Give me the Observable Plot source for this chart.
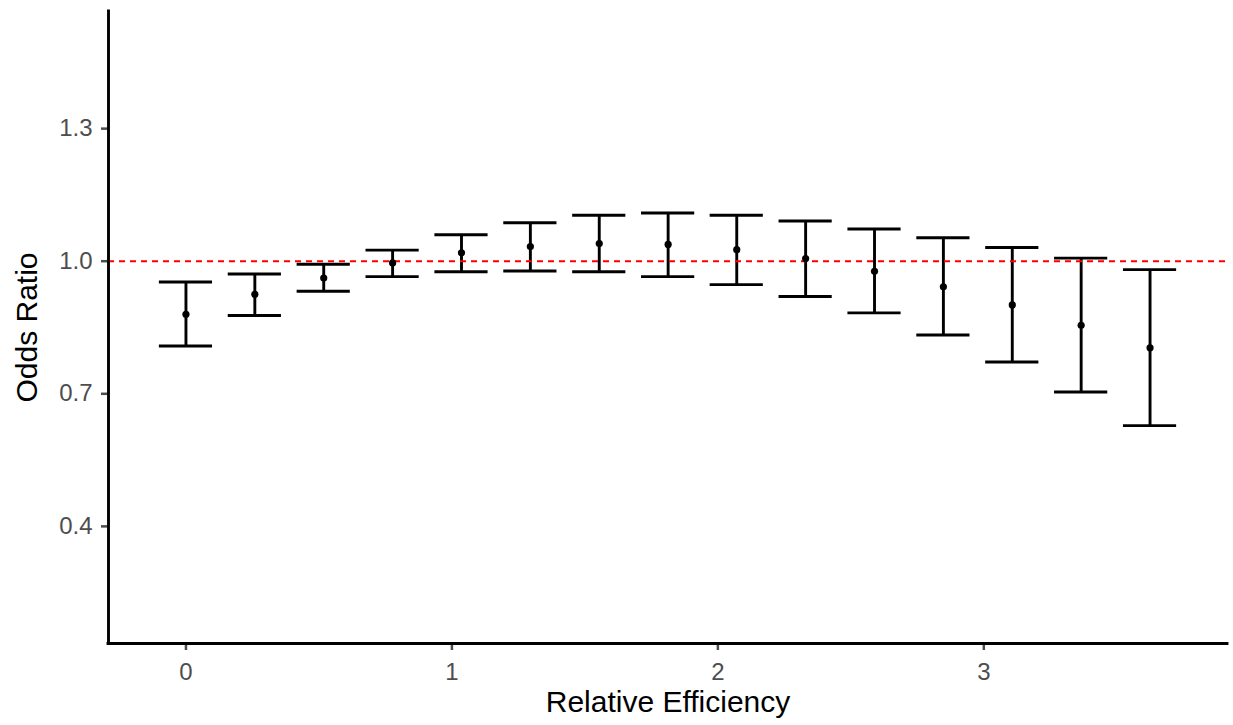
<!DOCTYPE html>
<html>
<head>
<meta charset="utf-8">
<script src="https://cdn.jsdelivr.net/npm/d3@7"></script>
<script src="https://cdn.jsdelivr.net/npm/@observablehq/plot@0.6"></script>
<style>
  html, body { margin: 0; padding: 0; background: #ffffff; }
</style>
</head>
<body>
<div id="chart"></div>
<script>
// ---- data ----
const efficiency = [0, 0.259, 0.518, 0.777, 1.036, 1.295, 1.554, 1.813, 2.071, 2.330, 2.589, 2.848, 3.107, 3.366, 3.625];
const oddsRatio  = [0.880, 0.925, 0.962, 0.996, 1.019, 1.033, 1.040, 1.038, 1.026, 1.006, 0.977, 0.942, 0.901, 0.855, 0.804];
const lowerCI    = [0.808, 0.877, 0.932, 0.965, 0.976, 0.978, 0.976, 0.965, 0.947, 0.920, 0.883, 0.833, 0.772, 0.704, 0.628];
const upperCI    = [0.953, 0.971, 0.993, 1.025, 1.060, 1.087, 1.104, 1.109, 1.104, 1.091, 1.073, 1.053, 1.031, 1.007, 0.981];
const xTicks = [0, 1, 2, 3];
const yTicks = [0.4, 0.7, 1.0, 1.3];
const referenceLine = [1];
const xTitle = ["Relative Efficiency"];
const yTitle = ["Odds Ratio"];

const capHalf = 0.1; // error bar width 0.2 (data units)
const rows = efficiency.map((x, i) => ({x, or: oddsRatio[i], lo: lowerCI[i], hi: upperCI[i]}));

// ggplot-like expanded limits
const xLo = -0.1, xHi = 3.725;
const xPad = (xHi - xLo) * 0.05;
const yLo = 0.2, yHi = 1.5;
const yPad = (yHi - yLo) * 0.05;
const xDomain = [xLo - xPad, xHi + xPad];
const yDomain = [yLo - yPad, yHi + yPad];

const font = "'Liberation Sans', Arial, Helvetica, sans-serif";
const lw = 2.9;

const chart = Plot.plot({
  width: 1233,
  height: 725,
  marginLeft: 108,
  marginRight: 6,
  marginTop: 11,
  marginBottom: 82,
  style: {fontFamily: font, background: "#ffffff", color: "#000000"},
  x: {domain: xDomain},
  y: {domain: yDomain},
  marks: [
    Plot.axisX({ticks: xTicks, tickSize: 7, tickPadding: 12, fontSize: 24, color: "#4D4D4D", strokeWidth: 2.5, label: null, tickFormat: d3.format("d")}),
    Plot.axisY({ticks: yTicks, tickSize: 7, tickPadding: 9, fontSize: 24, color: "#4D4D4D", strokeWidth: 2.5, label: null, tickFormat: d3.format(".1f")}),
    // error bars
    Plot.ruleX(rows, {x: "x", y1: "lo", y2: "hi", stroke: "black", strokeWidth: lw}),
    Plot.ruleY(rows, {y: "lo", x1: d => d.x - capHalf, x2: d => d.x + capHalf, stroke: "black", strokeWidth: lw}),
    Plot.ruleY(rows, {y: "hi", x1: d => d.x - capHalf, x2: d => d.x + capHalf, stroke: "black", strokeWidth: lw}),
    // reference line
    Plot.ruleY(referenceLine, {stroke: "#FF0000", strokeWidth: 1.9, strokeDasharray: "6,5"}),
    // points
    Plot.dot(rows, {x: "x", y: "or", r: 3.6, fill: "black", stroke: null}),
    // axis lines
    Plot.ruleX([xDomain[0]], {stroke: "black", strokeWidth: lw, strokeLinecap: "square"}),
    Plot.ruleY([yDomain[0]], {stroke: "black", strokeWidth: lw, strokeLinecap: "square"}),
    // axis titles
    Plot.text(xTitle, {frameAnchor: "bottom", dy: 68, lineAnchor: "bottom", textAnchor: "middle", fontSize: 30, fill: "black"}),
    Plot.text(yTitle, {frameAnchor: "left", dx: -72, rotate: -90, lineAnchor: "bottom", textAnchor: "middle", fontSize: 30, fill: "black"})
  ]
});
document.getElementById("chart").appendChild(chart);
</script>
</body>
</html>
